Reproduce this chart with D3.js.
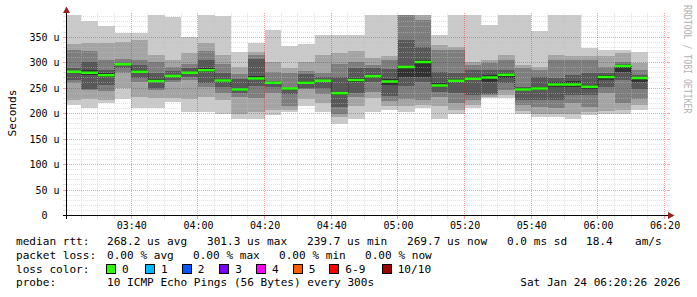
<!DOCTYPE html>
<html>
<head>
<meta charset="utf-8">
<script src="https://cdn.jsdelivr.net/npm/d3@7"></script>
<style>
html, body { margin: 0; padding: 0; background: #fff; }
svg { display: block; font-family: "DejaVu Sans Mono", monospace; }
</style>
</head>
<body>
<div id="chart"></div>
<script>
// column end times (5 min steps)
var times = ["03:25","03:30","03:35","03:40","03:45","03:50","03:55",
  "04:00","04:05","04:10","04:15","04:20","04:25","04:30","04:35","04:40","04:45","04:50","04:55",
  "05:00","05:05","05:10","05:15","05:20","05:25","05:30","05:35","05:40","05:45","05:50","05:55",
  "06:00","06:05","06:10","06:15"];

// median rtt, microseconds
var median = [282, 280, 275, 296.6, 282, 264, 273.6, 280, 285, 265, 247, 269, 260.5, 249, 260.5,
  264.4, 239.7, 265.7, 273, 263, 291.3, 301.3, 255.3, 264.4, 268.4, 271, 276.2, 247.4, 249.3,
  257.2, 257, 252.6, 271.6, 293.3, 269.7];

// the 10 pings of each round, sorted (ping1 = fastest)
var ping1  = [216,210,220,229,210,210,223,203,203,200,190,190,197,203,214,203,180,190,203,207,203,210,190,200,210,230,230,200,193,193,190,197,200,200,207];
var ping2  = [226,228,226,250,233,230,230,228,233,226,200,203,207,207,228,221,193,214,230,214,215,216,215,207,216,233,236,206,200,200,200,203,206,207,216];
var ping3  = [260,246,245,279,262,246,262,266,253,240,233,230,240,214,249,238,200,233,243,225,228,226,232,220,226,236,247,216,213,210,220,213,240,220,229];
var ping4  = [266,249,256,289,270,251,266,271,259,253,240,254,252,238,251,251,213,240,262,234,255,262,242,240,236,239,259,226,226,226,236,236,252,265,249];
var ping5  = [280,275,271,295,279,261,271,277,281,262,244,265,258,247,258,262,237,262,270,256,272,272,252,261,265,262,270,244,246,252,252,249,266,282,262];
var ping6  = [284,285,279,298,285,267,276,282,289,268,249,273,262,251,263,266,242,269,276,268,294,305,259,268,272,275,279,250,252,262,263,256,275,296,272];
var ping7  = [289,302,285,300,295,280,283,289,306,279,267,308,264,251,277,271,272,289,289,288,344,331,282,280,285,285,285,252,272,269,275,279,279,298,276];
var ping8  = [325,323,305,308,305,302,292,298,323,298,277,315,282,279,284,279,298,302,295,305,398,384,325,325,295,299,305,289,285,305,305,305,292,302,285];
var ping9  = [336,338,339,341,344,315,305,318,338,315,291,321,302,289,302,315,318,323,310,312,410,400,334,331,302,305,315,295,292,315,312,312,312,318,300];
var ping10 = [400,381,371,359,359,400,389,351,400,392,321,339,364,333,336,354,354,354,400,400,420,410,354,400,400,374,400,400,362,400,400,328,324,324,320];

var yTicks = [0, 50, 100, 150, 200, 250, 300, 350];
var lossLabels = ["0", "1", "2", "3", "4", "5", "6-9", "10/10"];
var lossColors = ["#26ff00", "#00b8ff", "#0059ff", "#7e00ff", "#ff00ff", "#ff5e00", "#ff0000", "#a10000"];

var legendRtt = ["268.2 us avg", "301.3 us max", "239.7 us min", "269.7 us now", "0.0 ms sd", "18.4", "am/s"];
var legendLoss = ["0.00 % avg", "0.00 % max", "0.00 % min", "0.00 % now"];

var width = 697, height = 297;
var gLeft = 66.5, gRight = 666.5, gTop = 15, gBottom = 215.5;

var parse = d3.timeParse("%H:%M");
var x = d3.scaleTime()
    .domain([new Date(1900, 0, 1, 3, 20, 34), new Date(1900, 0, 1, 6, 20, 34)])
    .range([gLeft, gRight]);
var y = d3.scaleLinear()
    .domain([0, 393.4])
    .range([gBottom, gTop]);

var px = function (v) { return Math.round(v - 0.5) + 0.5; };

var svg = d3.select("#chart").append("svg")
    .attr("width", width)
    .attr("height", height);

svg.append("rect").attr("width", width).attr("height", height).attr("fill", "#fff");

svg.append("clipPath").attr("id", "plot")
    .append("rect")
    .attr("x", gLeft).attr("y", gTop)
    .attr("width", gRight - gLeft).attr("height", gBottom - gTop);

// smoke: bands between ping i and ping 11-i
var pings = [ping1, ping2, ping3, ping4, ping5, ping6, ping7, ping8, ping9, ping10];
var bandColors = ["#cacaca", "#a4a4a4", "#7e7e7e", "#585858", "#323232"];
var cols = times.map(function (t, i) {
    var end = parse(t);
    return { start: d3.timeMinute.offset(end, -5), end: end, i: i };
});

var smoke = svg.append("g").attr("clip-path", "url(#plot)").attr("shape-rendering", "crispEdges");
bandColors.forEach(function (c, b) {
    var lo = pings[b], hi = pings[9 - b];
    smoke.append("g").selectAll("rect")
        .data(cols)
        .enter().append("rect")
        .attr("x", function (d) { return x(d.start); })
        .attr("width", function (d) { return x(d.end) - x(d.start); })
        .attr("y", function (d) { return y(hi[d.i]); })
        .attr("height", function (d) { return y(lo[d.i]) - y(hi[d.i]); })
        .attr("fill", c);
});

// grid (drawn over the smoke, as rrdtool does); integer ends keep the dots on pixels
var minorCol = "rgba(192,192,192,0.45)", majorCol = "rgba(255,0,0,0.38)";
var grid = svg.append("g").attr("shape-rendering", "crispEdges");
d3.range(10, 394, 10).forEach(function (v) {
    var major = v % 50 === 0;
    var yy = px(y(v));
    var col = major ? majorCol : minorCol;
    grid.append("line").attr("x1", 67).attr("x2", 666).attr("y1", yy).attr("y2", yy)
        .attr("stroke", col).attr("stroke-dasharray", "1,1");
    grid.append("line").attr("x1", 63).attr("x2", 66).attr("y1", yy).attr("y2", yy)
        .attr("stroke", col);
    grid.append("line").attr("x1", 667).attr("x2", 670).attr("y1", yy).attr("y2", yy)
        .attr("stroke", col);
});
x.ticks(d3.timeMinute.every(5)).forEach(function (t) {
    var major = t.getMinutes() % 20 === 0;
    var xx = px(x(t));
    var col = major ? majorCol : minorCol;
    grid.append("line").attr("x1", xx).attr("x2", xx).attr("y1", 13).attr("y2", 215)
        .attr("stroke", col).attr("stroke-dasharray", "1,1");
    grid.append("line").attr("x1", xx).attr("x2", xx).attr("y1", 216).attr("y2", 219)
        .attr("stroke", col);
});

// median line
var medPts = [];
cols.forEach(function (d) {
    medPts.push([x(d.start), y(median[d.i])]);
    medPts.push([x(d.end), y(median[d.i])]);
});
var medG = svg.append("g").attr("clip-path", "url(#plot)");
medG.append("path")
    .attr("d", d3.line()(medPts))
    .attr("fill", "none")
    .attr("stroke", "#1a1a1a")
    .attr("stroke-dasharray", "1,1");
medG.selectAll("line.med")
    .data(cols)
    .enter().append("line")
    .attr("class", "med")
    .attr("x1", function (d) { return x(d.start); })
    .attr("x2", function (d) { return x(d.end); })
    .attr("y1", function (d) { return y(median[d.i]); })
    .attr("y2", function (d) { return y(median[d.i]); })
    .attr("stroke", lossColors[0])
    .attr("stroke-width", 2.5);

// axes
var axisCol = "#000", arrowCol = "#9b2020";
svg.append("line").attr("x1", 62.5).attr("x2", 668).attr("y1", gBottom).attr("y2", gBottom)
    .attr("stroke", axisCol).attr("shape-rendering", "crispEdges");
svg.append("line").attr("x1", gLeft).attr("x2", gLeft).attr("y1", 12).attr("y2", 219)
    .attr("stroke", axisCol).attr("shape-rendering", "crispEdges");
svg.append("path").attr("d", "M66.5,6.5L63,13L70,13Z").attr("fill", arrowCol);
svg.append("path").attr("d", "M674.5,215.5L668,212L668,219Z").attr("fill", arrowCol);

// y labels
var yl = svg.append("g").attr("font-size", "10px").attr("fill", "#000");
yTicks.forEach(function (v) {
    var yy = y(v) + 3.6;
    yl.append("text").attr("x", 47.6).attr("y", yy).attr("text-anchor", "end").text(v);
    if (v > 0) yl.append("text").attr("x", 53.4).attr("y", yy).text("u");
});

// x labels
var xl = svg.append("g").attr("font-size", "10px").attr("fill", "#000");
x.ticks(d3.timeMinute.every(20)).forEach(function (t) {
    xl.append("text").attr("x", x(t) + 0.5).attr("y", 228.5).attr("text-anchor", "middle")
        .text(d3.timeFormat("%H:%M")(t));
});

svg.append("text")
    .attr("transform", "translate(16,113) rotate(-90)")
    .attr("text-anchor", "middle")
    .attr("font-size", "11.1px")
    .text("Seconds");

svg.append("text")
    .attr("transform", "translate(684,5) rotate(90) scale(1,1.25)")
    .attr("font-size", "8.2px")
    .attr("fill", "#b4b4b4")
    .text("RRDTOOL / TOBI OETIKER");

// legend
var lg = svg.append("g").attr("font-size", "11.1px").attr("fill", "#000")
    .style("white-space", "pre");
var rttX = [107, 207, 307, 407, 507, 586, 635];
lg.append("text").attr("x", 16).attr("y", 245).text("median rtt:");
legendRtt.forEach(function (s, i) {
    lg.append("text").attr("x", rttX[i]).attr("y", 245).text(s);
});
var lossX = [107, 193, 279, 365];
lg.append("text").attr("x", 16).attr("y", 258.5).text("packet loss:");
legendLoss.forEach(function (s, i) {
    lg.append("text").attr("x", lossX[i]).attr("y", 258.5).text(s);
});
var swX = [106, 145, 181.7, 219.3, 256, 292.7, 329.3, 381.7];
lg.append("text").attr("x", 16).attr("y", 272.5).text("loss color:");
lossLabels.forEach(function (s, i) {
    lg.append("rect").attr("x", swX[i] + 0.5).attr("y", 264.5).attr("width", 9).attr("height", 9)
        .attr("fill", lossColors[i]).attr("stroke", "#000").attr("shape-rendering", "crispEdges");
    lg.append("text").attr("x", swX[i] + 16).attr("y", 272.5).text(s);
});
lg.append("text").attr("x", 16).attr("y", 286).text("probe:");
lg.append("text").attr("x", 107).attr("y", 286).text("10 ICMP Echo Pings (56 Bytes) every 300s");
lg.append("text").attr("x", 680.5).attr("y", 286).attr("text-anchor", "end").text("Sat Jan 24 06:20:26 2026");
</script>
</body>
</html>
